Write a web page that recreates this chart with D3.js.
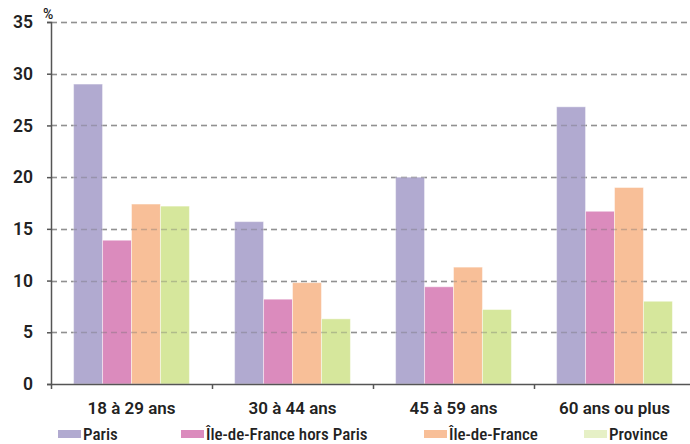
<!DOCTYPE html>
<html><head><meta charset="utf-8">
<script src="https://cdn.jsdelivr.net/npm/d3@7"></script>
<style>
body{margin:0;background:#fff;}
svg{display:block;}
</style></head>
<body><svg id="c" width="690" height="444"></svg>
<script>
const categories = ["18 à 29 ans", "30 à 44 ans", "45 à 59 ans", "60 ans ou plus"];
const seriesNames = ["Paris", "Île-de-France hors Paris", "Île-de-France", "Province"];
const paris = [29.0, 15.7, 20.0, 26.8];
const idfHorsParis = [13.9, 8.2, 9.4, 16.7];
const idf = [17.4, 9.8, 11.3, 19.0];
const province = [17.2, 6.3, 7.2, 8.0];
const yTicks = [0, 5, 10, 15, 20, 25, 30, 35];
const colors = ["#b1aad0", "#db8bbd", "#f8bf98", "#d6e79c"];
const legendColors = ["#b1aad0", "#db8bbd", "#f8bf98", "#e6f0c6"];

(function(){
const series = [paris, idfHorsParis, idf, province];
const svg = d3.select("#c");
const mLeft = 51, mRight = 695, mTop = 22, mBottom = 384;
const axisFont = "Roboto, 'Liberation Sans', sans-serif";

const y = d3.scaleLinear().domain([0, 35]).range([mBottom, mTop]);
const x0 = d3.scaleBand().domain(categories).range([mLeft, mRight]).paddingInner(0).paddingOuter(0);
const x1 = d3.scaleBand().domain(d3.range(4)).range([0, x0.bandwidth()]).paddingInner(0).paddingOuter(0.78);

// gridlines
svg.append("g").selectAll("line").data(yTicks.filter(d => d > 0)).join("line")
  .attr("x1", mLeft).attr("x2", 690)
  .attr("y1", d => Math.round(y(d)) + 0.5).attr("y2", d => Math.round(y(d)) + 0.5)
  .attr("stroke", "#a6a6a6").attr("stroke-width", 1.6).attr("stroke-dasharray", "6,4");

// bars
const g = svg.append("g");
categories.forEach((c, ci) => {
  series.forEach((s, si) => {
    g.append("rect")
      .attr("x", x0(c) + x1(si))
      .attr("y", y(s[ci]))
      .attr("width", x1.bandwidth())
      .attr("height", y(0) - y(s[ci]))
      .attr("fill", colors[si])
      .attr("stroke", "#ffffff").attr("stroke-opacity", 0.45).attr("stroke-width", 1);
  });
});

// gridlines visible through bars
svg.append("g").selectAll("line").data(yTicks.filter(d => d > 0)).join("line")
  .attr("x1", mLeft).attr("x2", 690)
  .attr("y1", d => Math.round(y(d)) + 0.5).attr("y2", d => Math.round(y(d)) + 0.5)
  .attr("stroke", "#6b6b6b").attr("stroke-opacity", 0.35).attr("stroke-width", 1.6).attr("stroke-dasharray", "6,4");

// y axis
const yAxis = d3.axisLeft(y).tickValues(yTicks).tickSize(4).tickPadding(14).tickFormat(d3.format("d"));
const ya = svg.append("g").attr("transform", `translate(${mLeft},0)`).call(yAxis);
ya.select(".domain").attr("stroke", "#555").attr("stroke-width", 1.5);
ya.selectAll(".tick line").attr("stroke", "#555").attr("stroke-width", 1.5);
ya.selectAll(".tick text").attr("font-family", axisFont)
  .attr("font-size", 17.5).attr("font-weight", 600).attr("fill", "#222");

// x axis
svg.append("line").attr("x1", mLeft).attr("x2", 690).attr("y1", mBottom + 0.5).attr("y2", mBottom + 0.5)
  .attr("stroke", "#555").attr("stroke-width", 1.5);
svg.append("g").selectAll("line").data(categories).join("line")
  .attr("x1", d => Math.round(x0(d)) + 0.5).attr("x2", d => Math.round(x0(d)) + 0.5)
  .attr("y1", mBottom).attr("y2", mBottom + 5)
  .attr("stroke", "#555").attr("stroke-width", 1.5);
svg.append("g").selectAll("text").data(categories).join("text")
  .attr("x", d => x0(d) + x0.bandwidth() / 2).attr("y", 414)
  .attr("text-anchor", "middle")
  .attr("font-family", axisFont)
  .attr("font-size", 17).attr("font-weight", 600).attr("fill", "#222")
  .text(d => d);

// % label
svg.append("text").attr("x", 43).attr("y", 19).text("%")
  .attr("font-family", axisFont).attr("font-size", 14).attr("font-weight", 500).attr("fill", "#222");

// legend
const legendX = [58, 181, 424, 584];
const lg = svg.append("g");
seriesNames.forEach((n, i) => {
  lg.append("rect").attr("x", legendX[i]).attr("y", 430).attr("width", 23).attr("height", 8).attr("fill", legendColors[i]);
  lg.append("text").attr("x", legendX[i] + 25).attr("y", 440).text(n)
    .attr("font-family", "'Liberation Sans Narrow', 'Roboto Condensed', 'Liberation Sans', sans-serif")
    .attr("font-size", 17).attr("font-weight", 500).attr("fill", "#222");
});
})();
</script></body></html>
